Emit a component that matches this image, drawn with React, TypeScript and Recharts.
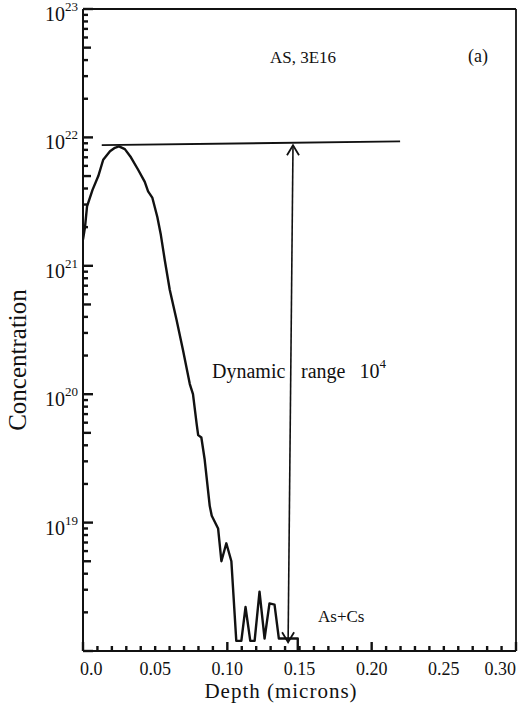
import React from 'react';
import { LineChart, Line, XAxis, YAxis, ReferenceLine, Customized } from 'recharts';

// ---- data (depth in microns, concentration in cm^-3) ----
const profileDepth = [
  0.0, 0.0014, 0.0028, 0.0066, 0.0106, 0.014, 0.0187, 0.0221, 0.0249, 0.029,
  0.0332, 0.0382, 0.0428, 0.0451, 0.048, 0.0515, 0.0539, 0.0567, 0.0601, 0.0648,
  0.0693, 0.074, 0.0762, 0.0788, 0.0798, 0.082, 0.0843, 0.0878, 0.0892, 0.0936,
  0.0959, 0.0993, 0.1028, 0.1062, 0.1097, 0.1126, 0.1159, 0.1189, 0.1223, 0.1258,
  0.1292, 0.1327, 0.1357, 0.1488, 0.1488,
];
const profileConc = [
  1.6e21, 2.0e21, 2.9e21, 3.9e21, 5.0e21, 6.7e21, 7.8e21, 8.3e21, 8.5e21, 8.1e21,
  7.0e21, 5.6e21, 4.5e21, 3.8e21, 3.4e21, 2.4e21, 1.75e21, 1.1e21, 6.5e20, 3.8e20,
  2.2e20, 1.2e20, 1.0e20, 5.8e19, 4.8e19, 4.6e19, 3.1e19, 1.35e19, 1.13e19, 9.0e18,
  5.0e18, 6.9e18, 5.0e18, 1.2e18, 1.2e18, 2.2e18, 1.2e18, 1.2e18, 2.9e18, 1.25e18,
  2.35e18, 2.3e18, 1.25e18, 1.25e18, 1.0e18,
];

const peakLineDepth = [0.013, 0.2197];
const peakLineConc = [8.7e21, 9.3e21];

const arrowDepth = [0.1455, 0.1421];
const arrowConc = [8.7e21, 1.17e18];

const xLabelValues = [0, 0.05, 0.1, 0.15, 0.2, 0.25, 0.3];
const xLabelTexts = ['0.0', '0.05', '0.10', '0.15', '0.20', '0.25', '0.30'];
const xMinorCount = 30; // minor ticks every 0.01 micron
const yLabelExponents = [19, 20, 21, 22, 23];
const yDecadeExponents = [18, 19, 20, 21, 22];
const yMultipliers = [1, 2, 3, 4, 5, 6, 7, 8, 9];

const profile = profileDepth.map((d, i) => ({ d, c: profileConc[i] }));
const peakLine = peakLineDepth.map((d, i) => ({ d, c: peakLineConc[i] }));
const arrow = arrowDepth.map((d, i) => ({ d, c: arrowConc[i] }));

const xTicks = Array.from({ length: xMinorCount + 1 }, (_, i) => i / 100);
const yTicks: number[] = [];
yDecadeExponents.forEach((e) => yMultipliers.forEach((m) => yTicks.push(m * Math.pow(10, e))));
yTicks.push(Math.pow(10, 23));

const FONT = "'Liberation Serif', 'Times New Roman', serif";
const INK = '#111';

const XTick = (props: any) => {
  const x = Number(props.x);
  const y = Number(props.y);
  const v = Number(props.payload.value);
  const isLong = Math.abs(v * 10 - Math.round(v * 10)) < 1e-6;
  const li = xLabelValues.findIndex((t) => Math.abs(t - v) < 1e-6);
  let anchor: 'start' | 'middle' | 'end' = 'middle';
  let dx = 0;
  if (li === 0) { anchor = 'start'; dx = -3; }
  if (li === xLabelValues.length - 1) { anchor = 'end'; dx = 0; }
  const len = isLong ? 9 : 5;
  return (
    <g>
      <rect x={x - 1.2} y={y - len} width={2.4} height={len} fill={INK} />
      {li >= 0 && (
        <text x={x + dx} y={y + 24} textAnchor={anchor} fontFamily={FONT} fontSize={18} fill={INK}>
          {xLabelTexts[li]}
        </text>
      )}
    </g>
  );
};

const YTick = (props: any) => {
  const x = Number(props.x);
  const y = Number(props.y);
  const v = Number(props.payload.value);
  const lg = Math.log10(v);
  const e = Math.round(lg);
  const isPow = Math.abs(lg - e) < 1e-6;
  const m = Math.round(v / Math.pow(10, Math.floor(lg + 1e-9)));
  const len = isPow ? 10 : m === 5 ? 8 : 5;
  const showLabel = isPow && yLabelExponents.includes(e);
  return (
    <g>
      <rect x={x} y={y - 1.2} width={len} height={2.4} fill={INK} />
      {showLabel && (
        <text x={x - 5} y={y + 12} textAnchor="end" fontFamily={FONT} fontSize={20} fill={INK}>
          10
          <tspan fontSize={13} dy={-10}>{e}</tspan>
        </text>
      )}
    </g>
  );
};

const ArrowDot = (props: any) => {
  const { cx, cy, index } = props;
  if (cx == null || cy == null) return <g key={`ad-${index}`} />;
  const s = index === 0 ? 1 : -1; // 0: arrow tip pointing up, 1: pointing down
  return (
    <path
      key={`ad-${index}`}
      d={`M ${cx - 6} ${cy + s * 10} L ${cx} ${cy} L ${cx + 6} ${cy + s * 10}`}
      fill="none"
      stroke={INK}
      strokeWidth={1.8}
    />
  );
};

const Annotations = () => (
  <g fontFamily={FONT} fill={INK}>
    <text x={303} y={63} textAnchor="middle" fontSize={17}>AS, 3E16</text>
    <text x={478} y={62} textAnchor="middle" fontSize={18}>(a)</text>
    <text x={212} y={378} fontSize={20}>Dynamic</text>
    <text x={301} y={378} fontSize={20}>
      range
      <tspan dx={14}>10</tspan>
      <tspan fontSize={13} dy={-10}>4</tspan>
    </text>
    <text x={318} y={622} fontSize={17}>As+Cs</text>
    <text transform="translate(26,360) rotate(-90)" textAnchor="middle" fontSize={25}>Concentration</text>
    <text x={281} y={698} textAnchor="middle" fontSize={21} letterSpacing={1}>Depth  (microns)</text>
  </g>
);

export default function App() {
  return (
    <div style={{ position: 'absolute', left: 0, top: 0, width: 522, height: 714, background: '#fff' }}>
      <LineChart width={522} height={714} margin={{ top: 9, right: 6, bottom: 0, left: 0 }}>
        <XAxis
          dataKey="d"
          type="number"
          domain={[0, 0.3]}
          ticks={xTicks}
          interval={0}
          allowDataOverflow
          height={63}
          tickSize={0}
          tickMargin={0}
          tickLine={false}
          axisLine={{ stroke: INK, strokeWidth: 2 }}
          tick={(p: any) => <XTick {...p} />}
        />
        <YAxis
          type="number"
          scale="log"
          domain={[1e18, 1e23]}
          ticks={yTicks}
          interval={0}
          allowDataOverflow
          width={83}
          tickSize={0}
          tickMargin={0}
          tickLine={false}
          axisLine={{ stroke: INK, strokeWidth: 2 }}
          tick={(p: any) => <YTick {...p} />}
        />
        <ReferenceLine y={1e23} stroke={INK} strokeWidth={1.8} />
        <ReferenceLine x={0.3} stroke={INK} strokeWidth={1.8} />
        <Line
          data={peakLine}
          dataKey="c"
          type="linear"
          stroke={INK}
          strokeWidth={1.8}
          dot={false}
          isAnimationActive={false}
        />
        <Line
          data={arrow}
          dataKey="c"
          type="linear"
          stroke={INK}
          strokeWidth={1.6}
          dot={(p: any) => <ArrowDot {...p} />}
          isAnimationActive={false}
        />
        <Line
          data={profile}
          dataKey="c"
          type="linear"
          stroke={INK}
          strokeWidth={2.4}
          strokeLinejoin="round"
          dot={false}
          isAnimationActive={false}
        />
        <Customized component={Annotations} />
      </LineChart>
    </div>
  );
}
